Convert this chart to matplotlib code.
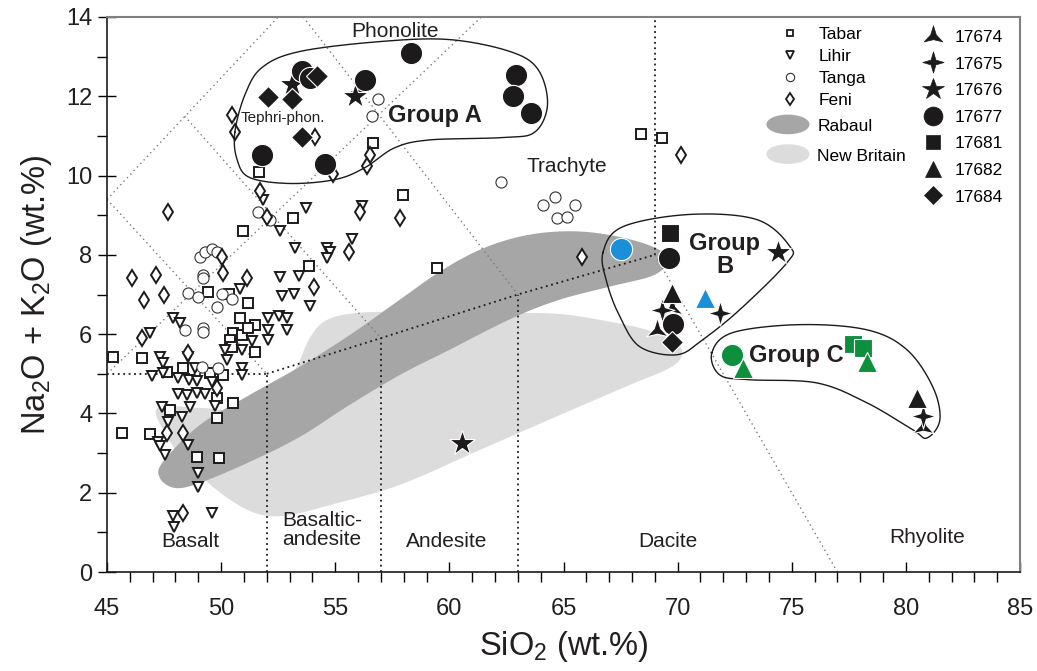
import numpy as np
import matplotlib.pyplot as plt
import matplotlib.patches as mpatches
from matplotlib.lines import Line2D
from matplotlib.path import Path
from matplotlib.legend_handler import HandlerPatch
from matplotlib.ticker import MultipleLocator

plt.rcParams['font.family'] = ['Liberation Sans', 'DejaVu Sans']
plt.rcParams['mathtext.fontset'] = 'custom'
plt.rcParams['mathtext.rm'] = 'Liberation Sans'

# ---- literature data: SiO2 vs Na2O+K2O (wt.%) ----
tabar_sio2 = [51.66, 56.65, 57.97, 53.15, 50.96, 53.85, 49.42, 50.34, 51.18, 51.49,
              50.52, 50.91, 50.39, 50.48, 51.49, 46.53, 45.26, 48.33, 47.63, 49.51,
              50.08, 49.82, 50.52, 47.76, 49.82, 46.88, 45.66, 48.94, 49.91, 68.39,
              69.31, 59.45, 50.83, 51.18]
tabar_alk = [10.1, 10.83, 9.52, 8.94, 8.59, 7.73, 7.07, 7.02, 6.79, 6.24,
             6.04, 5.98, 5.86, 5.68, 5.56, 5.4, 5.43, 5.15, 5.05, 5.03,
             4.97, 4.39, 4.27, 4.09, 3.89, 3.48, 3.51, 2.9, 2.88, 11.04,
             10.96, 7.68, 6.41, 6.16]

lihir_sio2 = [51.83, 53.72, 52.58, 53.23, 54.64, 54.77, 55.73, 56.17, 52.58, 53.41,
              50.83, 52.67, 53.19, 53.89, 47.89, 48.2, 46.88, 52.05, 52.53, 52.88,
              52.88, 52.05, 52.05, 51.35, 47.32, 47.45, 48.55, 48.85, 50.17, 50.91,
              50.26, 50.91, 50.91, 46.97, 47.45, 48.11, 48.59, 48.94, 49.6, 48.11,
              48.5, 48.94, 49.29, 47.41, 48.64, 49.73, 48.29, 47.67, 47.23, 47.32,
              48.55, 47.54, 48.99, 48.99, 47.89, 47.93, 49.6, 54.64]
lihir_alk = [9.39, 9.19, 8.59, 8.18, 8.18, 8.08, 8.41, 9.22, 7.45, 7.47,
             7.15, 6.97, 7.02, 6.72, 6.41, 6.29, 6.04, 6.41, 6.46, 6.41,
             6.11, 6.11, 5.86, 5.83, 5.43, 5.28, 5.43, 5.15, 5.61, 5.61,
             5.35, 5.15, 4.97, 4.95, 5.03, 4.9, 4.85, 4.82, 4.8, 4.49,
             4.47, 4.52, 4.49, 4.17, 4.17, 4.19, 3.91, 3.79, 3.28, 3.18,
             3.21, 2.95, 2.5, 2.15, 1.41, 1.14, 1.49, 7.93]

tanga_sio2 = [49.07, 49.29, 49.6, 49.82, 49.2, 49.2, 48.55, 48.99, 50.04, 50.48,
              49.82, 48.42, 49.2, 49.2, 51.61, 52.14, 49.16, 49.86, 56.87, 56.61,
              62.26, 64.62, 64.1, 65.5, 64.71, 65.15]
tanga_alk = [7.95, 8.06, 8.16, 8.08, 7.5, 7.42, 7.05, 6.94, 7.02, 6.89,
             6.69, 6.11, 6.16, 6.06, 9.09, 8.89, 5.18, 5.15, 11.92, 11.49,
             9.85, 9.47, 9.27, 9.27, 8.94, 8.96]

feni_sio2 = [50.48, 50.61, 54.11, 54.9, 56.52, 56.39, 51.7, 47.67, 52.01, 50.04,
             50.08, 51.13, 46.1, 47.15, 46.62, 47.5, 46.53, 48.55, 56.08, 55.6,
             54.07, 57.83, 49.82, 47.63, 48.33, 48.33, 65.81, 70.14]
feni_alk = [11.54, 11.09, 10.98, 10.03, 10.53, 10.23, 9.6, 9.07, 8.96, 7.95,
            7.55, 7.42, 7.42, 7.5, 6.87, 6.99, 5.91, 5.53, 9.09, 8.08,
            7.2, 8.94, 4.65, 3.51, 3.51, 1.49, 7.95, 10.53]

# fields (outlines)
rabaul_sio2 = [47.45, 49.07, 51.26, 53.45, 55.64, 57.83, 59.59, 61.34, 63.09, 64.84,
               66.59, 68.57, 69.57, 69.0, 67.03, 64.84, 62.78, 60.02, 57.83, 55.64,
               53.45, 51.26, 49.07, 47.98, 47.32]
rabaul_alk = [2.78, 3.71, 4.47, 5.18, 5.98, 6.87, 7.58, 8.13, 8.46, 8.59,
              8.54, 8.28, 7.93, 7.5, 7.2, 6.87, 6.41, 5.61, 4.97, 4.22,
              3.41, 2.78, 2.25, 2.12, 2.37]

nbrit_sio2 = [47.23, 49.07, 50.61, 52.14, 53.23, 53.89, 54.64, 56.08, 58.71, 61.34,
              64.54, 66.59, 68.65, 69.88, 70.19, 69.66, 67.91, 64.84, 61.34, 57.83,
              54.77, 53.02, 51.79, 50.61, 49.29, 48.2, 47.45]
nbrit_alk = [4.14, 4.14, 4.09, 4.34, 5.1, 5.91, 6.36, 6.54, 6.57, 6.54,
             6.52, 6.36, 6.11, 5.81, 5.48, 5.15, 4.72, 3.96, 3.08, 2.2,
             1.69, 1.44, 1.44, 1.74, 2.32, 2.95, 3.59]

groupA_sio2 = [50.6, 51.05, 51.8, 53.45, 56.96, 60.0, 62.65, 63.88, 64.3, 63.75,
               62.4, 59.15, 57.6, 56.3, 55.0, 53.0, 51.25, 50.7]
groupA_alk = [11.09, 12.05, 12.73, 13.13, 13.38, 13.43, 13.13, 12.68, 11.8, 11.1,
              10.96, 10.9, 10.7, 10.2, 9.9, 9.8, 9.95, 10.4]
groupB_sio2 = [66.73, 67.6, 70.54, 73.47, 74.92, 74.79, 72.73, 71.1, 69.97, 68.35,
               67.47, 66.9]
groupB_alk = [8.06, 8.71, 9.02, 8.89, 8.21, 7.8, 6.62, 5.86, 5.48, 5.68,
              6.44, 7.3]
groupC_sio2 = [71.5, 72.42, 75.35, 78.29, 80.04, 81.18, 81.49, 80.92, 80.3, 78.29,
               76.1, 73.16, 71.85]
groupC_alk = [5.53, 6.04, 6.24, 6.11, 5.61, 4.67, 3.84, 3.38, 3.59, 4.27,
              4.77, 4.85, 4.97]

# ---- this study (colour key: k black, b blue, g green) ----
s17674_sio2 = [69.1, 69.75, 80.74]
s17674_alk = [6.1, 6.65, 3.65]
s17674_col = ['k', 'k', 'k']
s17675_sio2 = [56.0, 69.3, 71.85, 80.74]
s17675_alk = [12.1, 6.6, 6.54, 3.93]
s17675_col = ['k', 'k', 'k', 'k']
s17676_sio2 = [53.1, 55.86, 74.39, 60.55]
s17676_alk = [12.3, 12.0, 8.08, 3.26]
s17676_col = ['k', 'k', 'k', 'k']
s17677_sio2 = [58.32, 62.92, 62.78, 63.57, 56.3, 53.54, 53.9, 51.79, 54.55, 69.62,
               67.51, 69.8, 72.38]
s17677_alk = [13.08, 12.53, 12.0, 11.59, 12.42, 12.63, 12.45, 10.53, 10.3, 7.93,
              8.16, 6.25, 5.48]
s17677_col = ['k', 'k', 'k', 'k', 'k', 'k', 'k', 'k', 'k', 'k', 'b', 'k', 'g']
s17681_sio2 = [69.66, 77.68, 78.11]
s17681_alk = [8.54, 5.76, 5.66]
s17681_col = ['k', 'g', 'g']
s17682_sio2 = [69.75, 71.19, 72.86, 78.29, 80.48]
s17682_alk = [7.05, 6.92, 5.15, 5.3, 4.39]
s17682_col = ['k', 'b', 'g', 'g', 'k']
s17684_sio2 = [52.05, 53.1, 53.54, 54.2, 69.75]
s17684_alk = [11.97, 11.92, 10.98, 12.5, 5.81]
s17684_col = ['k', 'k', 'k', 'k', 'k']

# TAS field boundaries
tas_black = [([52, 52], [0, 5]), ([57, 57], [0, 5.9]), ([63, 63], [0, 7]),
             ([69, 69], [8, 14]), ([45, 52], [5, 5]),
             ([52, 57, 63, 69], [5, 5.9, 7, 8])]
tas_grey = [([45, 52.5], [9.4, 14]), ([45, 61.4], [5, 14]), ([45, 52], [9.4, 5]),
            ([48.4, 57], [11.5, 5.9]), ([53.6, 63], [14, 7]), ([69, 77], [8, 0])]

palette = {'k': '#1c1a1a', 'b': '#1b8fd8', 'g': '#0e8f3e'}
tri_star = Path.unit_regular_star(3, 0.3)
four_star = Path.unit_regular_star(4, 0.32)


def smooth_closed(xs, ys, n=30):
    pts = np.column_stack([xs, ys])
    m = len(pts)
    t = np.linspace(0, 1, n, endpoint=False)[:, None]
    segs = []
    for i in range(m):
        p0, p1, p2, p3 = pts[i - 1], pts[i], pts[(i + 1) % m], pts[(i + 2) % m]
        segs.append(0.5 * (2 * p1 + (-p0 + p2) * t + (2 * p0 - 5 * p1 + 4 * p2 - p3) * t ** 2
                           + (-p0 + 3 * p1 - 3 * p2 + p3) * t ** 3))
    out = np.vstack(segs)
    return np.vstack([out, out[:1]])


class HandlerEllipse(HandlerPatch):
    def create_artists(self, legend, orig_handle, xdescent, ydescent,
                       width, height, fontsize, trans):
        center = 0.5 * width - 0.5 * xdescent, 0.5 * height - 0.5 * ydescent
        p = mpatches.Ellipse(xy=center, width=width + xdescent, height=height + ydescent)
        self.update_prop(p, orig_handle, legend)
        p.set_transform(trans)
        return [p]


fig = plt.figure(figsize=(10.37, 6.71), dpi=100)
ax = fig.add_axes([0.1032, 0.1475, 0.8804, 0.8272])
ax.set_xlim(45, 85)
ax.set_ylim(0, 14)

# shaded fields
nb = smooth_closed(nbrit_sio2, nbrit_alk)
ax.fill(nb[:, 0], nb[:, 1], color='#dcdcdc', lw=0, zorder=1)
rb = smooth_closed(rabaul_sio2, rabaul_alk)
ax.fill(rb[:, 0], rb[:, 1], color='#a6a6a6', lw=0, zorder=1.5)

for xs, ys in tas_black:
    ax.plot(xs, ys, color='#1c1a1a', lw=1.3, ls=(0, (1, 2)), zorder=2)
for xs, ys in tas_grey:
    ax.plot(xs, ys, color='#7a7a7a', lw=1.0, ls=(0, (1, 2.5)), zorder=2)

# literature data
open_kw = dict(ls='none', mfc='white', zorder=3)
ax.plot(tabar_sio2, tabar_alk, marker='s', ms=6.5, mec='#1c1a1a', mew=1.4, **open_kw)
ax.plot(lihir_sio2, lihir_alk, marker='v', ms=7.5, mec='#1c1a1a', mew=1.4, **open_kw)
ax.plot(tanga_sio2, tanga_alk, marker='o', ms=8, mec='#333333', mew=0.8, **open_kw)
ax.plot(feni_sio2, feni_alk, marker='d', ms=8, mec='#1c1a1a', mew=1.4, **open_kw)

# group outlines
for gx, gy in [(groupA_sio2, groupA_alk), (groupB_sio2, groupB_alk), (groupC_sio2, groupC_alk)]:
    g = smooth_closed(gx, gy)
    ax.plot(g[:, 0], g[:, 1], color='#1c1a1a', lw=1.0, zorder=4)

# samples
samples = [(s17674_sio2, s17674_alk, s17674_col, tri_star, 18),
           (s17675_sio2, s17675_alk, s17675_col, four_star, 18),
           (s17676_sio2, s17676_alk, s17676_col, '*', 19),
           (s17677_sio2, s17677_alk, s17677_col, 'o', 16),
           (s17681_sio2, s17681_alk, s17681_col, 's', 12.5),
           (s17682_sio2, s17682_alk, s17682_col, '^', 14),
           (s17684_sio2, s17684_alk, s17684_col, 'D', 11)]
for xs, ys, cols, mk, size in samples:
    for x, y, c in zip(xs, ys, cols):
        ax.plot(x, y, ls='none', marker=mk, ms=size, mfc=palette[c], mec='white',
                mew=0.8, zorder=5)

# field names
txt = dict(fontsize=15, color='#231f20', ha='center', va='center', zorder=6)
ax.text(57.6, 13.64, 'Phonolite', **txt)
ax.text(52.7, 11.46, 'Tephri-phon.', fontsize=11, color='#231f20', ha='center', va='center', zorder=6)
ax.text(65.15, 10.23, 'Trachyte', **txt)
ax.text(48.64, 0.78, 'Basalt', **txt)
ax.text(54.42, 1.06, 'Basaltic-\nandesite', linespacing=1.05, **txt)
ax.text(59.9, 0.78, 'Andesite', **txt)
ax.text(69.57, 0.78, 'Dacite', **txt)
ax.text(80.92, 0.86, 'Rhyolite', **txt)
grp = dict(fontsize=17, fontweight='bold', color='#231f20', ha='center', va='center', zorder=6)
ax.text(59.37, 11.52, 'Group A', **grp)
ax.text(72.07, 8.0, 'Group\nB', linespacing=1.0, **grp)
ax.text(75.22, 5.45, 'Group C', **grp)

# axes styling
for side in ['left', 'bottom']:
    ax.spines[side].set_color('#1c1a1a')
    ax.spines[side].set_linewidth(1.2)
for side in ['top', 'right']:
    ax.spines[side].set_color('#808080')
    ax.spines[side].set_linewidth(1.5)
ax.xaxis.set_major_locator(MultipleLocator(5))
ax.xaxis.set_minor_locator(MultipleLocator(1))
ax.yaxis.set_major_locator(MultipleLocator(2))
ax.yaxis.set_minor_locator(MultipleLocator(1))
ax.tick_params(axis='x', which='major', direction='in', length=7, width=1,
               labelsize=17, pad=19, labelcolor='#231f20')
ax.tick_params(axis='x', which='minor', direction='out', length=7, width=1)
ax.tick_params(axis='y', which='major', direction='inout', length=13, width=1,
               labelsize=17, pad=4, labelcolor='#231f20')
ax.tick_params(axis='y', which='minor', direction='out', length=7, width=1)
ax.set_xlabel('SiO$_2$ (wt.%)', fontsize=23.5, color='#231f20', labelpad=6)
ax.set_ylabel('Na$_2$O + K$_2$O (wt.%)', fontsize=23.5, color='#231f20', labelpad=9)

# legends
lit_handles = [Line2D([], [], ls='none', marker='s', ms=5, mfc='white', mec='#1c1a1a', mew=1.3),
               Line2D([], [], ls='none', marker='v', ms=6, mfc='white', mec='#1c1a1a', mew=1.3),
               Line2D([], [], ls='none', marker='o', ms=6, mfc='white', mec='#333333', mew=0.8),
               Line2D([], [], ls='none', marker='d', ms=6.5, mfc='white', mec='#1c1a1a', mew=1.3)]
leg1 = ax.legend(lit_handles, ['Tabar', 'Lihir', 'Tanga', 'Feni'], loc='upper left',
                 bbox_to_anchor=(0.739, 0.982), frameon=False, fontsize=12.5,
                 handlelength=1.0, handletextpad=1.1, labelspacing=0.4,
                 borderpad=0, borderaxespad=0)
ax.add_artist(leg1)

field_handles = [mpatches.Ellipse((0, 0), 1, 1, color='#a6a6a6'),
                 mpatches.Ellipse((0, 0), 1, 1, color='#dcdcdc')]
leg2 = ax.legend(field_handles, ['Rabaul', 'New Britain'], loc='upper left',
                 bbox_to_anchor=(0.723, 0.819), frameon=False, fontsize=12.5,
                 handlelength=2.4, handleheight=1.05, handletextpad=0.5, labelspacing=0.73,
                 borderpad=0, borderaxespad=0,
                 handler_map={mpatches.Ellipse: HandlerEllipse()})
ax.add_artist(leg2)

sample_handles = [Line2D([], [], ls='none', marker=mk, ms=size * 0.85, mfc='#1c1a1a', mec='#1c1a1a', mew=0.5)
                  for _, _, _, mk, size in samples]
ax.legend(sample_handles, ['17674', '17675', '17676', '17677', '17681', '17682', '17684'],
          loc='upper left', bbox_to_anchor=(0.893, 0.977), frameon=False, fontsize=12.5,
          handlelength=1.2, handletextpad=0.66, labelspacing=0.66,
          borderpad=0, borderaxespad=0)

fig.savefig('out.png', dpi=100)
